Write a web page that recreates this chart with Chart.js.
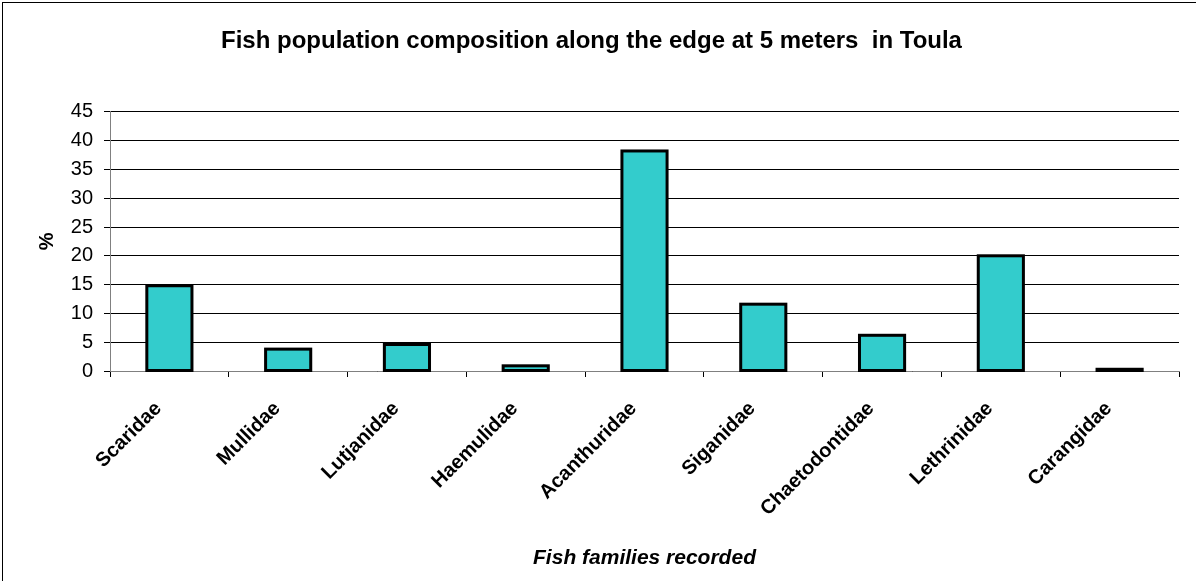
<!DOCTYPE html>
<html>
<head>
<meta charset="utf-8">
<script src="https://cdn.jsdelivr.net/npm/chart.js@4/dist/chart.umd.min.js"></script>
<style>
	body { margin: 0; background: #fff; }
	#wrap { width: 1196px; height: 581px; }
</style>
</head>
<body>
<div id="wrap"><canvas id="chart" width="1196" height="581"></canvas></div>
<script>
"use strict";

// Data

var families = ["Scaridae", "Mullidae", "Lutjanidae", "Haemulidae", "Acanthuridae",
	"Siganidae", "Chaetodontidae", "Lethrinidae", "Carangidae"];
var percentages = [14.8, 3.8, 4.6, 0.9, 38.2, 11.6, 6.2, 20.0, 0.3];
var yMin = 0, yMax = 45, yStep = 5;

var chartTitle = "Fish population composition along the edge at 5 meters  in Toula",
	xTitle = "Fish families recorded",
	yTitle = "%";

var FONT = "Arial, 'Liberation Sans', sans-serif";

// Plugins

// white background and the frame round the picture
var framePlugin = {
	id: "frame",
	beforeDraw: function (chart) {
		var ctx = chart.ctx;
		ctx.save();
		ctx.fillStyle = "#fff";
		ctx.fillRect(0, 0, chart.width, chart.height);
		ctx.strokeStyle = "#000";
		ctx.lineWidth = 1;
		ctx.strokeRect(2.5, 2.5, chart.width, chart.height);
		ctx.restore();
	}
};

// bar outlines centred on the bar edges (so even tiny bars show a thick line)
var outlinePlugin = {
	id: "outline",
	afterDatasetsDraw: function (chart) {
		var ctx = chart.ctx, bars = chart.getDatasetMeta(0).data;

		ctx.save();
		ctx.strokeStyle = "#000";
		ctx.lineWidth = 3;
		for (var i in bars) {
			var p = bars[i].getProps(["x", "y", "base", "width"], true);
			ctx.strokeRect(p.x - p.width / 2, p.y, p.width, p.base - p.y);
		}
		ctx.restore();
	}
};

new Chart(document.getElementById("chart"), {
	type: "bar",
	data: {
		labels: families,
		datasets: [{
			data: percentages,
			backgroundColor: "#33CCCC",
			borderWidth: 0,
			categoryPercentage: 1,
			barPercentage: 0.38
		}]
	},
	plugins: [framePlugin, outlinePlugin],
	options: {
		responsive: false,
		animation: false,
		layout: { padding: { top: 4, left: 4, right: 17, bottom: 4 } },
		plugins: {
			legend: { display: false },
			tooltip: { enabled: false },
			title: {
				display: true,
				text: chartTitle,
				color: "#000",
				font: { family: FONT, size: 24, weight: "bold" },
				padding: { top: 23, bottom: 56 }
			}
		},
		scales: {
			x: {
				grid: {
					display: true,
					drawOnChartArea: false,
					color: "#000",
					tickLength: 6,
					tickColor: "#000"
				},
				border: { color: "#808080" },
				ticks: {
					color: "#000",
					font: { family: FONT, size: 20, weight: "bold" },
					minRotation: 45,
					maxRotation: 45,
					padding: 20,
					labelOffset: -11
				},
				title: {
					display: true,
					text: xTitle,
					color: "#000",
					font: { family: FONT, size: 21, weight: "bold", style: "italic" },
					padding: { top: 4, bottom: 6 }
				},
				afterFit: function (scale) { scale.height = 206; }
			},
			y: {
				min: yMin,
				max: yMax,
				ticks: {
					stepSize: yStep,
					color: "#000",
					font: { family: FONT, size: 20 },
					padding: 11
				},
				grid: {
					color: "#000",
					tickLength: 6,
					tickColor: "#000"
				},
				border: { color: "#808080" },
				title: {
					display: true,
					text: yTitle,
					color: "#000",
					font: { family: FONT, size: 20, weight: "bold" },
					padding: { top: 31, bottom: 4 }
				},
				afterFit: function (scale) { scale.width = 106; }
			}
		}
	}
});
</script>
</body>
</html>
